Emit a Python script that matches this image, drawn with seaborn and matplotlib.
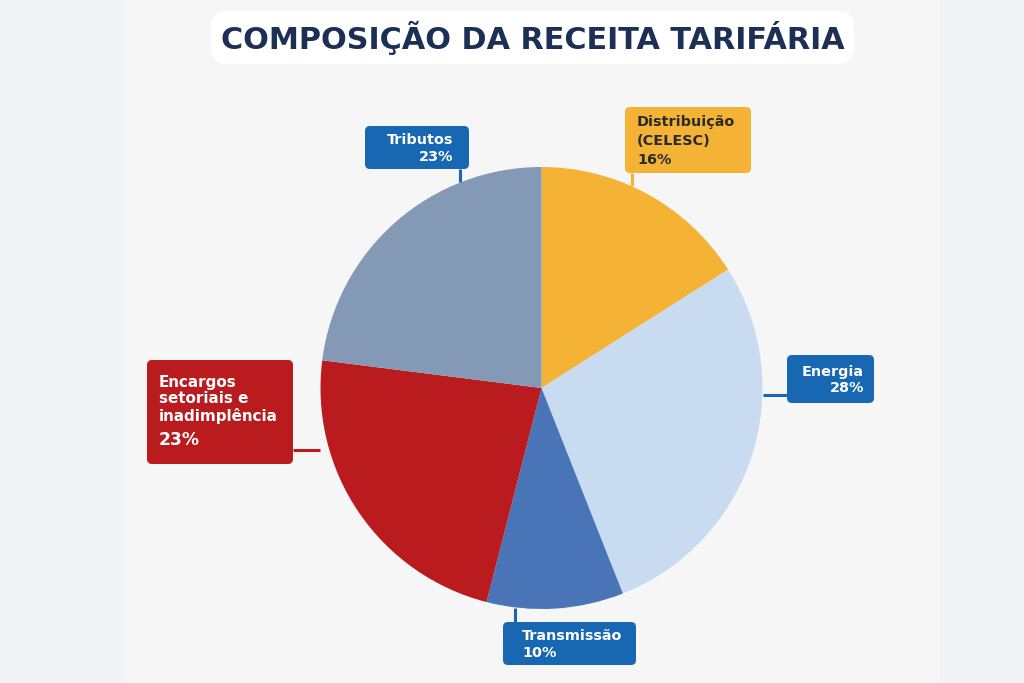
import matplotlib
matplotlib.use("Agg")
import matplotlib.pyplot as plt
import seaborn as sns
from matplotlib.patches import FancyBboxPatch, Rectangle

sns.set_theme(style="white")
plt.rcParams['font.family'] = ['DejaVu Sans']

# data (clockwise from top)
labels = ['Distribuição\n(CELESC)', 'Energia', 'Transmissão', 'Encargos\nsetoriais e\ninadimplência', 'Tributos']
shares = [16, 28, 10, 23, 23]
slice_colors = ['#F5B335', '#C8DBF0', '#4A74B8', '#BA1B1E', '#8499B5']
title = 'COMPOSIÇÃO DA RECEITA TARIFÁRIA'

W, H = 1024, 683
fig = plt.figure(figsize=(W / 100, H / 100), dpi=100)
fig.patch.set_facecolor('#F1F3F6')
ax = fig.add_axes([0, 0, 1, 1])

# pixel helper: image y (top down) -> axes y
def Y(y):
    return H - y

ax.add_patch(Rectangle((126, 0), 814, H, facecolor='#F6F6F6', edgecolor='none', zorder=0))

# title box
ax.add_patch(FancyBboxPatch((211, Y(64)), 643, 53, boxstyle='round,pad=0,rounding_size=16',
                            facecolor='white', edgecolor='none', zorder=1))
ax.text(533, Y(38), title, ha='center', va='center', fontsize=21.8, fontweight='bold',
        color='#1C2F55', zorder=2)

cx, cy, r = 541.5, Y(388), 221
ax.pie(shares, colors=slice_colors, startangle=90, counterclock=False,
       center=(cx, cy), radius=r, frame=True,
       wedgeprops=dict(linewidth=0, edgecolor='none'))
ax.set_xlim(0, W)
ax.set_ylim(0, H)
ax.set_aspect('equal')
ax.axis('off')

blue = '#1767B3'
# (x0, y_top, w, h, facecolor, textcolor, halign, text pad, line spacing, connector line)
boxes = [
    (625, 107, 126, 66, '#F5B335', '#2A2A2A', 'left', 12, 1.45, [(632, 173), (632, 186)]),
    (787, 355, 87, 48, blue, 'white', 'right', 10, 1.2, [(787, 395), (763, 395)]),
    (503, 622, 133, 43, blue, 'white', 'left', 19, 1.25, [(515, 622), (515, 608)]),
    (147, 360, 146, 104, '#BA1B1E', 'white', 'left', 12, 1.12, [(293, 450), (320, 450)]),
    (365, 126, 104, 43, blue, 'white', 'right', 16, 1.2, [(460, 169), (460, 182)]),
]

for (x0, yt, w, h, fc, tc, ha, pad, ls, line), lab, val in zip(boxes, labels, shares):
    ax.add_patch(FancyBboxPatch((x0, Y(yt + h)), w, h, boxstyle='round,pad=0,rounding_size=5',
                                facecolor=fc, edgecolor='none', zorder=3))
    (x1, y1), (x2, y2) = line
    ax.plot([x1, x2], [Y(y1), Y(y2)], color=fc, lw=2.2, zorder=2.5, solid_capstyle='butt')
    tx = x0 + pad if ha == 'left' else x0 + w - pad
    if lab.startswith('Encargos'):
        ax.text(tx, Y(399.5), lab, ha='left', va='center', fontsize=10.9, fontweight='bold',
                color=tc, linespacing=ls, zorder=4)
        ax.text(tx, Y(440), f'{val}%', ha='left', va='center', fontsize=12.3,
                fontweight='bold', color=tc, zorder=4)
    else:
        txt = f'{lab}\n{val}%'
        ax.text(tx, Y(yt + h / 2 + 1), txt, ha=ha, va='center', multialignment=ha, fontsize=10.4,
                fontweight='bold', color=tc, linespacing=ls, zorder=4)

fig.savefig('out.png', dpi=100, facecolor=fig.get_facecolor())
